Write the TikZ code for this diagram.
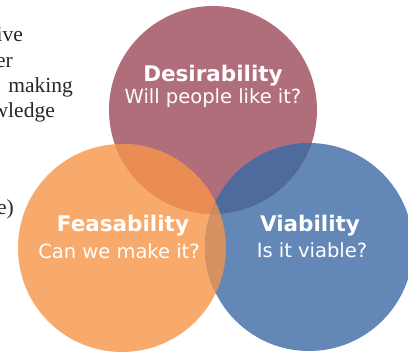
\documentclass[tikz,border=0pt]{standalone}
\usepackage{fontspec}
\newfontfamily\vennfont{DejaVu Sans}
\newfontfamily\pagefont{Liberation Serif}
\usetikzlibrary{calc}
\tikzset{>=latex}

\definecolor{desire}{HTML}{B06E7A}
\definecolor{feas}{HTML}{F8AA6C}
\definecolor{viab}{HTML}{6388B8}
\definecolor{desfeas}{HTML}{E98D55}
\definecolor{desviab}{HTML}{4F6A9D}
\definecolor{feasviab}{HTML}{D5915F}
\definecolor{allthree}{HTML}{CB8B5D}

\newcommand\vennr{104pt}

\tikzset{
  title/.style={text=white,font=\vennfont\bfseries\fontsize{21.5}{24}\selectfont,anchor=base,inner sep=0pt},
  question/.style={text=white,font=\vennfont\fontsize{19.5}{22}\selectfont,anchor=base,inner sep=0pt},
  margin/.style={text=black!85,font=\pagefont\fontsize{21.5}{24}\selectfont,anchor=base east,inner sep=0pt}
}

\begin{document}
\begin{tikzpicture}[x=1pt,y=-1pt]
    \useasboundingbox (0,0) rectangle (408,353);

    % text of the page beside the picture
    \node[margin] (line1) at (23,42) {ive};
    \node[margin] (line2) at (13,68) {er};
    \node[margin] (line3) at (73,93) {making};
    \node[margin] (line4) at (55,118) {wledge};
    \node[margin] (line5) at (14,215) {e)};

    \coordinate (desire) at (213,110);
    \coordinate (feas) at (122,248);
    \coordinate (viab) at (309,247);

    \fill[desire] (desire) circle (\vennr);
    \fill[feas] (feas) circle (\vennr);
    \fill[viab] (viab) circle (\vennr);

    % overlaps
    \begin{scope}
      \clip (desire) circle (\vennr);
      \fill[desfeas] (feas) circle (\vennr);
      \fill[desviab] (viab) circle (\vennr);
    \end{scope}
    \begin{scope}
      \clip (feas) circle (\vennr);
      \fill[feasviab] (viab) circle (\vennr);
      \clip (desire) circle (\vennr);
      \fill[allthree] (viab) circle (\vennr);
    \end{scope}

    \node[title] (destitle) at (213,82) {Desirability};
    \node[question] (desq) at (213,104) {Will people like it?};

    \node[title] (feastitle) at (123,232) {Feasability};
    \node[question] (feasq) at (119,259) {Can we make it?};

    \node[title] (viabtitle) at (310,232) {Viability};
    \node[question] (viabq) at (312,258) {Is it viable?};
\end{tikzpicture}
\end{document}
